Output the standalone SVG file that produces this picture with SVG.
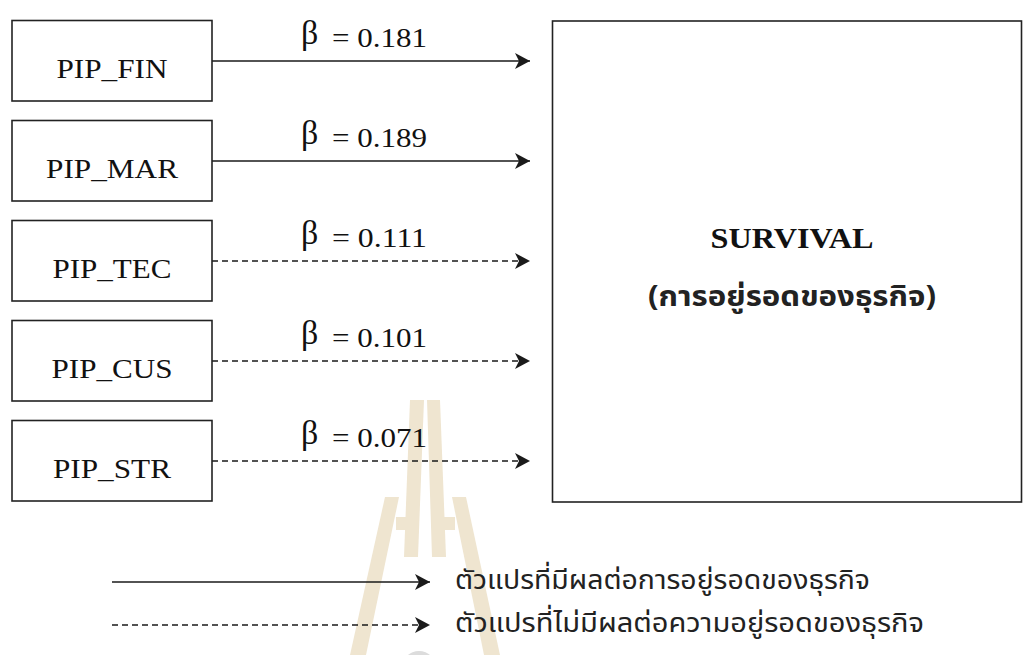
<svg xmlns="http://www.w3.org/2000/svg" width="1023" height="655" viewBox="0 0 1023 655">
<defs>
<marker id="ah" markerUnits="userSpaceOnUse" markerWidth="16" markerHeight="16" refX="15" refY="8" orient="auto">
<path d="M0,0 L15,8 L0,16 L4,8 z" fill="#1a1a1a"/>
</marker>
</defs>
<style>
.box{fill:none;stroke:#222;stroke-width:1.6}
.lbl{font-family:"Liberation Serif","Times New Roman",serif;font-size:28px;fill:#111;text-anchor:middle}
.beta{font-family:"Liberation Serif","Times New Roman",serif;font-size:34px;fill:#111}
.num{font-family:"Liberation Serif","Times New Roman",serif;font-size:27px;fill:#111}
.sol{stroke:#1a1a1a;stroke-width:1.6;fill:none;marker-end:url(#ah)}
.dsh{stroke:#1a1a1a;stroke-width:1.4;fill:none;stroke-dasharray:6 4;marker-end:url(#ah)}
.wm{fill:#efe5d0}
.th{font-family:"Noto Sans Thai","Noto Serif Thai","Liberation Serif","DejaVu Sans",sans-serif;fill:#222}
</style>
<rect width="1023" height="655" fill="#fff"/>
<g id="watermark">
<polygon class="wm" points="410,400 424,400 418,557 404,557"/>
<polygon class="wm" points="427,400 440,400 446,557 432,557"/>
<polygon class="wm" points="385,497 399,497 366,655 350,655"/>
<polygon class="wm" points="452,497 466,497 500,655 484,655"/>
<rect class="wm" x="396" y="517" width="12" height="13"/>
<rect class="wm" x="443" y="517" width="12" height="13"/>
<circle cx="419" cy="668" r="17" fill="#dcdcdc"/>
</g>
<g id="connectors">
<line class="sol" x1="212" y1="61" x2="530" y2="61"/>
<line class="sol" x1="212" y1="161" x2="530" y2="161"/>
<line class="dsh" x1="212" y1="261" x2="530" y2="261"/>
<line class="dsh" x1="212" y1="361" x2="530" y2="361"/>
<line class="dsh" x1="212" y1="461" x2="530" y2="461"/>
<text class="beta" x="301" y="44">β</text>
<text class="num" x="332" y="47" textLength="95" lengthAdjust="spacingAndGlyphs">= 0.181</text>
<text class="beta" x="301" y="144">β</text>
<text class="num" x="332" y="147" textLength="95" lengthAdjust="spacingAndGlyphs">= 0.189</text>
<text class="beta" x="301" y="244">β</text>
<text class="num" x="332" y="247" textLength="95" lengthAdjust="spacingAndGlyphs">= 0.111</text>
<text class="beta" x="301" y="344">β</text>
<text class="num" x="332" y="347" textLength="95" lengthAdjust="spacingAndGlyphs">= 0.101</text>
<text class="beta" x="301" y="444">β</text>
<text class="num" x="332" y="447" textLength="95" lengthAdjust="spacingAndGlyphs">= 0.071</text>
</g>
<g id="pip_fin"><rect class="box" x="12" y="20.5" width="200" height="80.5"/><text class="lbl" x="112" y="78" textLength="111" lengthAdjust="spacingAndGlyphs">PIP_FIN</text></g>
<g id="pip_mar"><rect class="box" x="12" y="120.5" width="200" height="80.5"/><text class="lbl" x="112" y="178" textLength="132" lengthAdjust="spacingAndGlyphs">PIP_MAR</text></g>
<g id="pip_tec"><rect class="box" x="12" y="220.5" width="200" height="80.5"/><text class="lbl" x="112" y="278" textLength="119" lengthAdjust="spacingAndGlyphs">PIP_TEC</text></g>
<g id="pip_cus"><rect class="box" x="12" y="320.5" width="200" height="80.5"/><text class="lbl" x="112" y="378" textLength="121" lengthAdjust="spacingAndGlyphs">PIP_CUS</text></g>
<g id="pip_str"><rect class="box" x="12" y="420.5" width="200" height="80.5"/><text class="lbl" x="112" y="478" textLength="118" lengthAdjust="spacingAndGlyphs">PIP_STR</text></g>
<g id="survival">
<rect class="box" x="552.5" y="21" width="469" height="481"/>
<text x="792" y="248" text-anchor="middle" font-family="'Liberation Serif','Times New Roman',serif" font-weight="bold" font-size="30" fill="#111" textLength="163" lengthAdjust="spacingAndGlyphs">SURVIVAL</text>
<text class="th" x="792" y="306" text-anchor="middle" font-weight="bold" font-size="29" textLength="288" lengthAdjust="spacingAndGlyphs">(การอยู่รอดของธุรกิจ)</text>
</g>
<g id="legend">
<line class="sol" x1="112" y1="582" x2="430" y2="582"/>
<line class="dsh" x1="112" y1="625" x2="430" y2="625"/>
<text class="th" x="455" y="589" font-size="27" textLength="415" lengthAdjust="spacingAndGlyphs">ตัวแปรที่มีผลต่อการอยู่รอดของธุรกิจ</text>
<text class="th" x="455" y="632" font-size="27" textLength="469" lengthAdjust="spacingAndGlyphs">ตัวแปรที่ไม่มีผลต่อความอยู่รอดของธุรกิจ</text>
</g>
</svg>
